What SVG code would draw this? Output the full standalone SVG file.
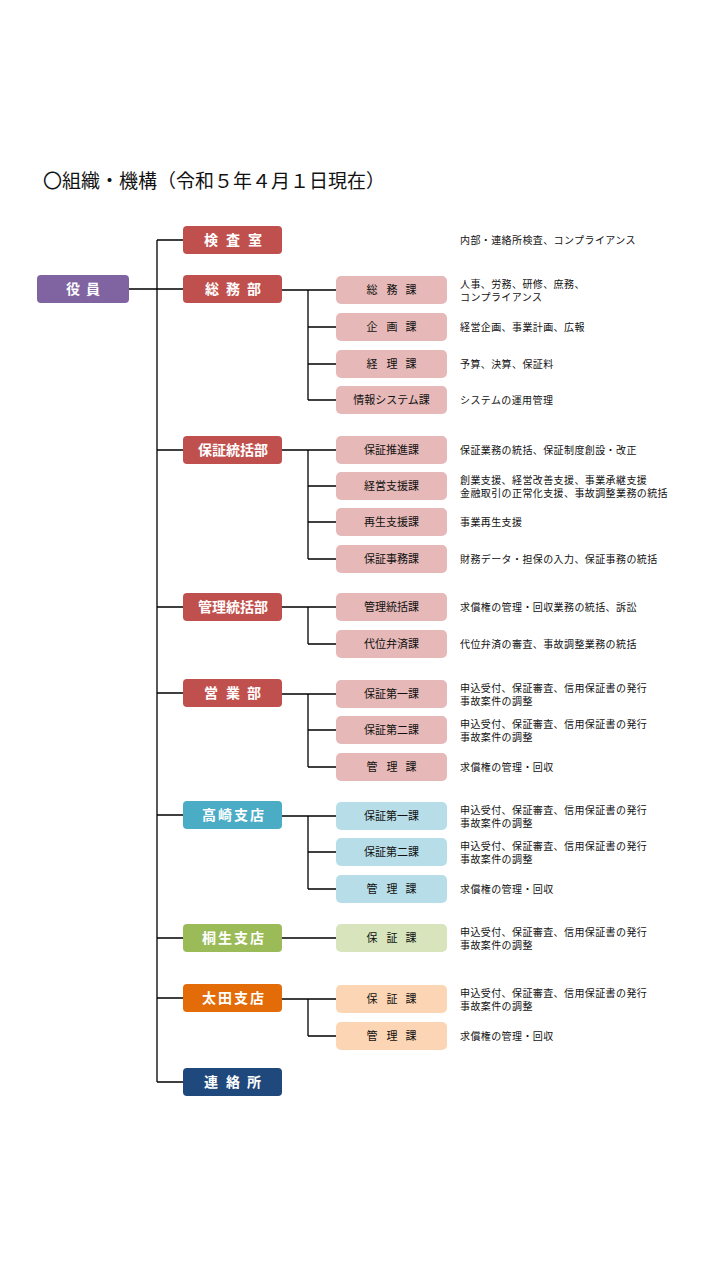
<svg xmlns="http://www.w3.org/2000/svg" width="720" height="1280" viewBox="0 0 720 1280">
<style>
.t{font-family:"Noto Sans CJK JP","Noto Sans",sans-serif}
.title{font-size:19px;fill:#111}
.pt{font-size:14px;font-weight:700;fill:#fff;text-anchor:middle}
.ct{font-size:11px;fill:#111;text-anchor:middle}
.d{font-size:10px;fill:#111;letter-spacing:0.4px}
.red{fill:#C0504D}.pink{fill:#E6B9B8}
.blue{fill:#4BACC6}.lblue{fill:#B7DEE8}
.green{fill:#9BBB59}.lgreen{fill:#D7E4BC}
.orange{fill:#E36C09}.lorange{fill:#FCD5B4}
.navy{fill:#1F497D}.purple{fill:#8064A2}
#connectors path{fill:none;stroke:#000;stroke-width:1.3}
</style>
<rect width="720" height="1280" fill="#fff"/>
<text class="t title" x="43" y="188">〇組織・機構（令和５年４月１日現在）</text>

<g id="connectors">
<path d="M157 240V1082M129 289H183M157 240H183M157 450H183M157 607H183M157 693H183M157 815H183M157 938H183M157 998H183M157 1082H183"/>
<path d="M282 290H336M308 290V400M308 327H336M308 364H336M308 400H336"/>
<path d="M282 450H336M308 450V559M308 486H336M308 522H336M308 559H336"/>
<path d="M282 607H336M308 607V644M308 644H336"/>
<path d="M282 694H336M308 694V767M308 730H336M308 767H336"/>
<path d="M282 816H336M308 816V889M308 852H336M308 889H336"/>
<path d="M282 938H336"/>
<path d="M282 999H336M308 999V1036M308 1036H336"/>
</g>

<g id="yakuin"><rect class="purple" x="37" y="275" width="92" height="28" rx="4"/><text class="t pt" x="73 93" y="294">役員</text></g>

<g id="kensashitsu"><rect class="red" x="183" y="226" width="99" height="28" rx="4"/><text class="t pt" x="211 233 255" y="245">検査室</text>
<text class="t d" x="460" y="243.5">内部・連絡所検査、コンプライアンス</text></g>

<g id="somubu"><rect class="red" x="183" y="275" width="99" height="28" rx="4"/><text class="t pt" x="212 233 254" y="294">総務部</text></g>
<g id="somuka"><rect class="pink" x="336" y="276" width="111" height="28" rx="5"/><text class="t ct" x="372 392 411" y="294">総務課</text>
<text class="t d" x="460" y="288">人事、労務、研修、庶務、</text><text class="t d" x="460" y="301">コンプライアンス</text></g>
<g id="kikakuka"><rect class="pink" x="336" y="313" width="111" height="28" rx="5"/><text class="t ct" x="372 392 411" y="331">企画課</text>
<text class="t d" x="460" y="330.5">経営企画、事業計画、広報</text></g>
<g id="keirika"><rect class="pink" x="336" y="350" width="111" height="28" rx="5"/><text class="t ct" x="372 392 411" y="368">経理課</text>
<text class="t d" x="460" y="367.5">予算、決算、保証料</text></g>
<g id="johoka"><rect class="pink" x="336" y="386" width="111" height="28" rx="5"/><text class="t ct" x="391.5" y="404">情報システム課</text>
<text class="t d" x="460" y="403.5">システムの運用管理</text></g>

<g id="hosho-tokatsubu"><rect class="red" x="183" y="436" width="99" height="28" rx="4"/><text class="t pt" x="233" y="455">保証統括部</text></g>
<g id="suishinka"><rect class="pink" x="336" y="436" width="111" height="28" rx="5"/><text class="t ct" x="391.5" y="454">保証推進課</text>
<text class="t d" x="460" y="453.5">保証業務の統括、保証制度創設・改正</text></g>
<g id="shienka"><rect class="pink" x="336" y="472" width="111" height="28" rx="5"/><text class="t ct" x="391.5" y="490">経営支援課</text>
<text class="t d" x="460" y="484">創業支援、経営改善支援、事業承継支援</text><text class="t d" x="460" y="497">金融取引の正常化支援、事故調整業務の統括</text></g>
<g id="saiseika"><rect class="pink" x="336" y="508" width="111" height="28" rx="5"/><text class="t ct" x="391.5" y="526">再生支援課</text>
<text class="t d" x="460" y="525.5">事業再生支援</text></g>
<g id="jimuka"><rect class="pink" x="336" y="545" width="111" height="28" rx="5"/><text class="t ct" x="391.5" y="563">保証事務課</text>
<text class="t d" x="460" y="562.5">財務データ・担保の入力、保証事務の統括</text></g>

<g id="kanri-tokatsubu"><rect class="red" x="183" y="593" width="99" height="28" rx="4"/><text class="t pt" x="233" y="612">管理統括部</text></g>
<g id="kanri-tokatsuka"><rect class="pink" x="336" y="593" width="111" height="28" rx="5"/><text class="t ct" x="391.5" y="611">管理統括課</text>
<text class="t d" x="460" y="610.5">求償権の管理・回収業務の統括、訴訟</text></g>
<g id="daiika"><rect class="pink" x="336" y="630" width="111" height="28" rx="5"/><text class="t ct" x="391.5" y="648">代位弁済課</text>
<text class="t d" x="460" y="647.5">代位弁済の審査、事故調整業務の統括</text></g>

<g id="eigyobu"><rect class="red" x="183" y="679" width="99" height="28" rx="4"/><text class="t pt" x="211 233 254" y="698">営業部</text></g>
<g id="eigyo-1ka"><rect class="pink" x="336" y="680" width="111" height="28" rx="5"/><text class="t ct" x="391.5" y="698">保証第一課</text>
<text class="t d" x="460" y="692">申込受付、保証審査、信用保証書の発行</text><text class="t d" x="460" y="705">事故案件の調整</text></g>
<g id="eigyo-2ka"><rect class="pink" x="336" y="716" width="111" height="28" rx="5"/><text class="t ct" x="391.5" y="734">保証第二課</text>
<text class="t d" x="460" y="728">申込受付、保証審査、信用保証書の発行</text><text class="t d" x="460" y="741">事故案件の調整</text></g>
<g id="eigyo-kanrika"><rect class="pink" x="336" y="753" width="111" height="28" rx="5"/><text class="t ct" x="372 392 411" y="771">管理課</text>
<text class="t d" x="460" y="770.5">求償権の管理・回収</text></g>

<g id="takasaki"><rect class="blue" x="183" y="801" width="99" height="28" rx="4"/><text class="t pt" x="209 225 241 257" y="820">高崎支店</text></g>
<g id="takasaki-1ka"><rect class="lblue" x="336" y="802" width="111" height="28" rx="5"/><text class="t ct" x="391.5" y="820">保証第一課</text>
<text class="t d" x="460" y="814">申込受付、保証審査、信用保証書の発行</text><text class="t d" x="460" y="827">事故案件の調整</text></g>
<g id="takasaki-2ka"><rect class="lblue" x="336" y="838" width="111" height="28" rx="5"/><text class="t ct" x="391.5" y="856">保証第二課</text>
<text class="t d" x="460" y="850">申込受付、保証審査、信用保証書の発行</text><text class="t d" x="460" y="863">事故案件の調整</text></g>
<g id="takasaki-kanrika"><rect class="lblue" x="336" y="875" width="111" height="28" rx="5"/><text class="t ct" x="372 392 411" y="893">管理課</text>
<text class="t d" x="460" y="892.5">求償権の管理・回収</text></g>

<g id="kiryu"><rect class="green" x="183" y="924" width="99" height="28" rx="4"/><text class="t pt" x="209 225 241 257" y="943">桐生支店</text></g>
<g id="kiryu-hoshoka"><rect class="lgreen" x="336" y="924" width="111" height="28" rx="5"/><text class="t ct" x="372 392 411" y="942">保証課</text>
<text class="t d" x="460" y="936">申込受付、保証審査、信用保証書の発行</text><text class="t d" x="460" y="949">事故案件の調整</text></g>

<g id="ota"><rect class="orange" x="183" y="984" width="99" height="28" rx="4"/><text class="t pt" x="209 225 241 257" y="1003">太田支店</text></g>
<g id="ota-hoshoka"><rect class="lorange" x="336" y="985" width="111" height="28" rx="5"/><text class="t ct" x="372 392 411" y="1003">保証課</text>
<text class="t d" x="460" y="997">申込受付、保証審査、信用保証書の発行</text><text class="t d" x="460" y="1010">事故案件の調整</text></g>
<g id="ota-kanrika"><rect class="lorange" x="336" y="1022" width="111" height="28" rx="5"/><text class="t ct" x="372 392 411" y="1040">管理課</text>
<text class="t d" x="460" y="1039.5">求償権の管理・回収</text></g>

<g id="renrakusho"><rect class="navy" x="183" y="1068" width="99" height="28" rx="4"/><text class="t pt" x="211 233 254" y="1087">連絡所</text></g>
</svg>
